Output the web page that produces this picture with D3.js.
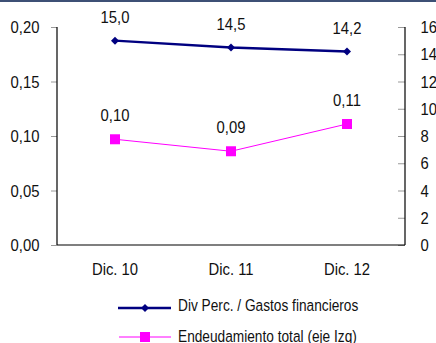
<!DOCTYPE html>
<html>
<head>
<meta charset="utf-8">
<script src="https://cdn.jsdelivr.net/npm/d3@7"></script>
<style>
  html, body { margin: 0; padding: 0; background: #fff; }
  svg { display: block; font-family: "Liberation Sans", Arial, sans-serif; }
</style>
</head>
<body>
<svg id="chart" width="436" height="343"></svg>
<script>
// Periods on the horizontal axis
const categories = ["Dic. 10", "Dic. 11", "Dic. 12"];
// Right axis series: dividends paid over financial expenses
const divGastos = [15.0, 14.5, 14.2];
// Left axis series: total indebtedness
const endeudamiento = [0.097, 0.086, 0.111];
// Axis tick values
const leftTicks = [0, 0.05, 0.10, 0.15, 0.20];
const rightTicks = [0, 2, 4, 6, 8, 10, 12, 14, 16];
// Legend entries
const seriesNames = ["Div Perc. / Gastos financieros", "Endeudamiento total (eje Izq)"];

const svg = d3.select("#chart");
const W = 436;
const plot = { left: 57, right: 405, top: 27, bottom: 245 };
const navy = "#000080", magenta = "#ff00ff";
const textColor = "#111";
const fmt2 = v => d3.format(".2f")(v).replace(".", ",");
const fmt1 = v => d3.format(".1f")(v).replace(".", ",");

// Condensed label: tall glyphs squeezed horizontally around the anchor point
function label(g, x, y, str, opts = {}) {
  const size = opts.size || 16.5, sx = opts.sx || 0.9;
  return g.append("text")
    .attr("transform", `translate(${x},${y}) scale(${sx},1)`)
    .attr("text-anchor", opts.anchor || "middle")
    .attr("font-size", size)
    .attr("fill", textColor)
    .text(str);
}

// frame line along the top edge
svg.append("rect").attr("x", 0).attr("y", 0).attr("width", W).attr("height", 2)
  .attr("fill", "#3d5075");

const x = d3.scaleBand().domain(categories).range([plot.left, plot.right]);
const yL = d3.scaleLinear().domain([0, 0.20]).range([plot.bottom, plot.top]);
const yR = d3.scaleLinear().domain([0, 16]).range([plot.bottom, plot.top]);
const cx = c => x(c) + x.bandwidth() / 2;

// left axis ticks (labels drawn separately in condensed style)
const gL = svg.append("g").attr("transform", `translate(${plot.left},0)`)
  .call(d3.axisLeft(yL).tickValues(leftTicks).tickFormat("").tickSize(6));
gL.select(".domain").remove();
gL.selectAll(".tick line").attr("stroke", "#999");
const gLl = svg.append("g");
leftTicks.forEach(t => label(gLl, 39.5, yL(t) + 6, fmt2(t), { anchor: "end" }));

// right axis ticks
const gR = svg.append("g").attr("transform", `translate(${plot.right},0)`)
  .call(d3.axisLeft(yR).tickValues(rightTicks).tickFormat("").tickSize(7));
gR.select(".domain").remove();
gR.selectAll(".tick line").attr("stroke", "#999");
const gRl = svg.append("g");
rightTicks.forEach(t => label(gRl, 420.5, yR(t) + 6, d3.format("d")(t), { anchor: "start" }));

// axis lines
svg.append("line").attr("x1", plot.left).attr("x2", plot.left)
  .attr("y1", plot.top).attr("y2", plot.bottom).attr("stroke", "#000").attr("stroke-width", 1.2);
svg.append("line").attr("x1", plot.right).attr("x2", plot.right)
  .attr("y1", plot.top).attr("y2", plot.bottom).attr("stroke", "#000").attr("stroke-width", 1.2);
svg.append("line").attr("x1", plot.left).attr("x2", plot.right)
  .attr("y1", plot.bottom).attr("y2", plot.bottom).attr("stroke", "#000").attr("stroke-width", 1.2);

// category labels
const gX = svg.append("g");
categories.forEach(c => label(gX, cx(c), 274.5, c));

// magenta series (left axis)
const lineL = d3.line().x((d, i) => cx(categories[i])).y(d => yL(d));
svg.append("path").datum(endeudamiento).attr("d", lineL)
  .attr("fill", "none").attr("stroke", magenta).attr("stroke-width", 1);
svg.append("g").selectAll("rect").data(endeudamiento).join("rect")
  .attr("x", (d, i) => cx(categories[i]) - 5).attr("y", d => yL(d) - 5)
  .attr("width", 10).attr("height", 10).attr("fill", magenta);
const gLab1 = svg.append("g");
endeudamiento.forEach((d, i) => label(gLab1, cx(categories[i]), yL(d) - 18.5, fmt2(d)));

// navy series (right axis)
const lineR = d3.line().x((d, i) => cx(categories[i])).y(d => yR(d));
svg.append("path").datum(divGastos).attr("d", lineR)
  .attr("fill", "none").attr("stroke", navy).attr("stroke-width", 2.5);
const diamondPath = d3.symbol().type(d3.symbolSquare).size(32)();
svg.append("g").selectAll("path").data(divGastos).join("path")
  .attr("transform", (d, i) => `translate(${cx(categories[i])},${yR(d)}) rotate(45)`)
  .attr("d", diamondPath)
  .attr("fill", navy);
const gLab2 = svg.append("g");
divGastos.forEach((d, i) => label(gLab2, cx(categories[i]), yR(d) - 17.5, fmt1(d)));

// legend
const legend = svg.append("g");
const legY = [308, 337];
legend.append("line").attr("x1", 118).attr("x2", 171).attr("y1", legY[0]).attr("y2", legY[0])
  .attr("stroke", navy).attr("stroke-width", 2.5);
legend.append("path").attr("d", diamondPath)
  .attr("transform", `translate(145,${legY[0]}) rotate(45)`).attr("fill", navy);
legend.append("line").attr("x1", 119).attr("x2", 171).attr("y1", legY[1]).attr("y2", legY[1])
  .attr("stroke", magenta).attr("stroke-width", 1);
legend.append("rect").attr("x", 140).attr("y", legY[1] - 5).attr("width", 10).attr("height", 10)
  .attr("fill", magenta);
seriesNames.forEach((s, i) => label(legend, 178, legY[i] + 2.5 + (i ? 2 : 0), s,
  { anchor: "start", size: 16.5, sx: 0.83 }));
</script>
</body>
</html>
